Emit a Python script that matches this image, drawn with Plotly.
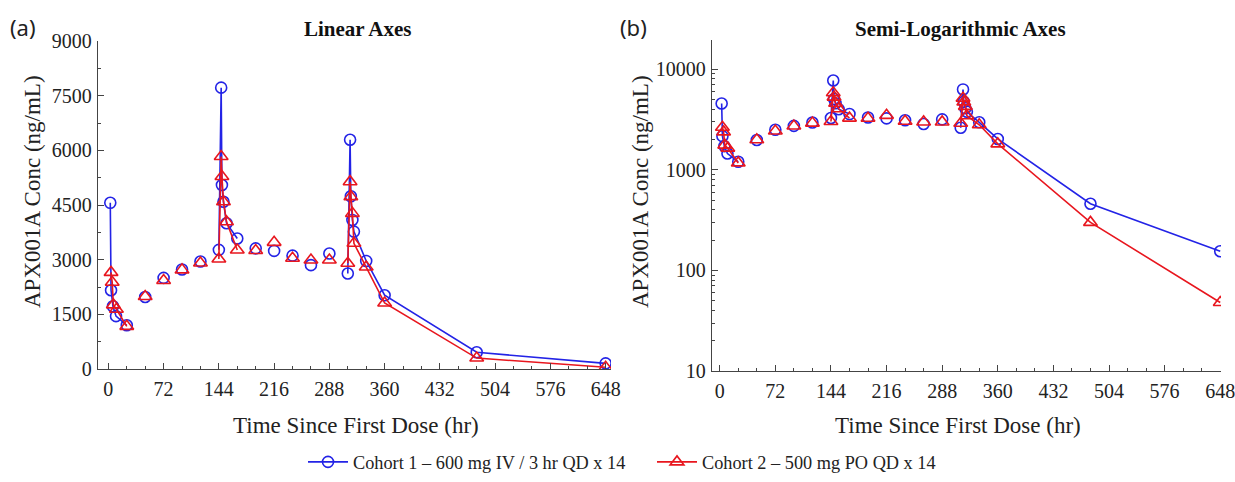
import plotly.graph_objects as go

# ---------------- data ----------------
# Cohort 1 - 600 mg IV / 3 hr QD x 14 (blue circles)
c1_d1_time = [2.5, 3.5, 6, 10, 24]
c1_d1_conc = [4560, 2160, 1720, 1450, 1200]
c1_tr1_time = [48, 72, 96, 120]
c1_tr1_conc = [1975, 2500, 2730, 2950]
c1_d7_time = [144, 147, 148, 150, 154, 168]
c1_d7_conc = [3270, 7720, 5050, 4590, 4000, 3580]
c1_tr2_time = [192, 216, 240, 264, 288]
c1_tr2_conc = [3310, 3240, 3110, 2850, 3170]
c1_d14_time = [312, 315, 316, 318, 320, 336, 360, 480, 648]
c1_d14_conc = [2620, 6290, 4740, 4090, 3770, 2965, 2025, 460, 155]

# Cohort 2 - 500 mg PO QD x 14 (red triangles)
c2_d1_time = [3.5, 5, 6.5, 10.5, 24]
c2_d1_conc = [2650, 2380, 1760, 1640, 1170]
c2_tr1_time = [48, 72, 96, 120]
c2_tr1_conc = [1990, 2430, 2720, 2910]
c2_d7_time = [144, 147, 148, 150, 154, 168]
c2_d7_conc = [3020, 5830, 5280, 4590, 4040, 3265]
c2_tr2_time = [192, 216, 240, 264, 288]
c2_tr2_conc = [3250, 3475, 3040, 2990, 2990]
c2_d14_time = [312, 315, 316, 318, 320, 336, 360, 480, 648]
c2_d14_conc = [2900, 5140, 4730, 4270, 3450, 2800, 1810, 300, 48]

x_ticks = [0, 72, 144, 216, 288, 360, 432, 504, 576, 648]
lin_ticks = [0, 1500, 3000, 4500, 6000, 7500, 9000]
log_ticks = [10, 100, 1000, 10000]
log_tick_text = ["10", "100", "1000", "10000"]

labels = ["Cohort 1 \u2013 600 mg IV / 3 hr QD x 14",
          "Cohort 2 \u2013 500 mg PO QD x 14"]
BLUE = "#2323e6"
RED = "#e8161e"

# page geometry (window pixels); the page body margin is removed below
W, H = 1235, 482


def px_x(x):
    return x / W


def px_y(y):
    return (H - y) / H


def build(segments):
    """Join profile segments; isolated troughs become lone points."""
    xs, ys = [], []
    for times, concs, joined in segments:
        if joined:
            xs += list(times) + [None]
            ys += list(concs) + [None]
        else:
            for t, c in zip(times, concs):
                xs += [t, None]
                ys += [c, None]
    return xs, ys


c1_x, c1_y = build([(c1_d1_time, c1_d1_conc, True), (c1_tr1_time, c1_tr1_conc, False),
                    (c1_d7_time, c1_d7_conc, True), (c1_tr2_time, c1_tr2_conc, False),
                    (c1_d14_time, c1_d14_conc, True)])
c2_x, c2_y = build([(c2_d1_time, c2_d1_conc, True), (c2_tr1_time, c2_tr1_conc, False),
                    (c2_d7_time, c2_d7_conc, True), (c2_tr2_time, c2_tr2_conc, False),
                    (c2_d14_time, c2_d14_conc, True)])

fig = go.Figure()
for i, (xa, ya) in enumerate([("x", "y"), ("x2", "y2")]):
    fig.add_trace(go.Scatter(
        x=c1_x, y=c1_y, xaxis=xa, yaxis=ya, mode="lines+markers", connectgaps=False,
        name=labels[0], legendgroup="c1", showlegend=(i == 0),
        line=dict(color=BLUE, width=1.6),
        marker=dict(symbol="circle-open", size=11, color=BLUE, line=dict(width=1.6))))
    fig.add_trace(go.Scatter(
        x=c2_x, y=c2_y, xaxis=xa, yaxis=ya, mode="lines+markers", connectgaps=False,
        name=labels[1], legendgroup="c2", showlegend=(i == 0),
        line=dict(color=RED, width=1.6),
        marker=dict(symbol="triangle-up-open", size=12, color=RED, line=dict(width=1.6))))

# minor tick positions for the log axis (2..9 within each decade)
log_minor = [d * k for d in log_ticks for k in range(2, 10) if d * k < 19000]

SERIF = "Liberation Serif, Times New Roman, serif"
tickfont = dict(family=SERIF, size=20, color="#222")
AX = "#444"

common_x = dict(tickmode="array", tickvals=x_ticks, ticks="inside", ticklen=6,
                tickcolor=AX, tickwidth=1.2, showline=True, linecolor=AX,
                linewidth=1.4, showgrid=False, zeroline=False, tickfont=tickfont,
                ticklabelstandoff=2, automargin=False, ticklabeloverflow="allow",
                minor=dict(dtick=24, tick0=0, ticks="inside", ticklen=3,
                           tickcolor=AX, showgrid=False))
common_y = dict(ticks="inside", ticklen=6, tickcolor=AX, tickwidth=1.2,
                showline=True, linecolor=AX, linewidth=1.4, showgrid=False,
                zeroline=False, tickfont=tickfont, ticklabelstandoff=1, automargin=False,
                ticklabeloverflow="allow")

fig.update_layout(
    template="none",
    width=W, height=H, paper_bgcolor="white", plot_bgcolor="white",
    margin=dict(l=0, r=0, t=0, b=0),
    xaxis=dict(domain=[px_x(98), px_x(611)], range=[-13.5, 655], anchor="y", **common_x),
    yaxis=dict(domain=[px_y(369), px_y(41)], range=[0, 9000],
               tickmode="array", tickvals=lin_ticks, anchor="x",
               minor=dict(dtick=750, tick0=0, ticks="inside", ticklen=3,
                          tickcolor=AX, showgrid=False),
               **common_y),
    xaxis2=dict(domain=[px_x(712), px_x(1221)], range=[-10, 649], anchor="y2", **common_x),
    yaxis2=dict(domain=[px_y(371), px_y(40)], type="log",
                range=[1, 4.29], tickmode="array", tickvals=log_ticks,
                ticktext=log_tick_text, anchor="x2",
                minor=dict(tickmode="array", tickvals=log_minor, ticks="inside",
                           ticklen=3, tickcolor=AX, showgrid=False),
                **common_y),
    legend=dict(orientation="h", x=px_x(303), xanchor="left", y=px_y(462), yanchor="middle",
                font=dict(family=SERIF, size=18.3, color="#222"), itemwidth=40,
                entrywidth=294, entrywidthmode="pixels",
                bgcolor="rgba(0,0,0,0)", traceorder="normal"),
    showlegend=True,
)

SANS = "Noto Sans, DejaVu Sans, sans-serif"
texts = [
    # text, x, y (window px), family, size, color, angle
    ("<b>Linear Axes</b>", 358, 29, SERIF, 21, "#111", 0),
    ("<b>Semi-Logarithmic Axes</b>", 960, 29, SERIF, 21, "#111", 0),
    ("(a)", 23, 27, SANS, 22, "#222", 0),
    ("(b)", 633, 27, SANS, 22, "#222", 0),
    ("Time Since First Dose (hr)", 356, 425, SERIF, 23, "#222", 0),
    ("Time Since First Dose (hr)", 958, 425, SERIF, 23, "#222", 0),
    ("APX001A Conc (ng/mL)", 32, 192, SERIF, 23, "#222", -90),
    ("APX001A Conc (ng/mL)", 640, 192, SERIF, 23, "#222", -90),
]
for text, px, py, fam, size, col, ang in texts:
    fig.add_annotation(text=text, x=px_x(px), y=px_y(py), xref="paper",
                       yref="paper", xanchor="center", yanchor="middle", showarrow=False,
                       textangle=ang, font=dict(family=fam, size=size, color=col))

# remove the default 8px page margin so the figure fills the window exactly
fig.write_html("out.html",
               config={"displayModeBar": False},
               post_script="document.body.style.margin='0';"
                           "document.body.style.overflow='hidden';")
